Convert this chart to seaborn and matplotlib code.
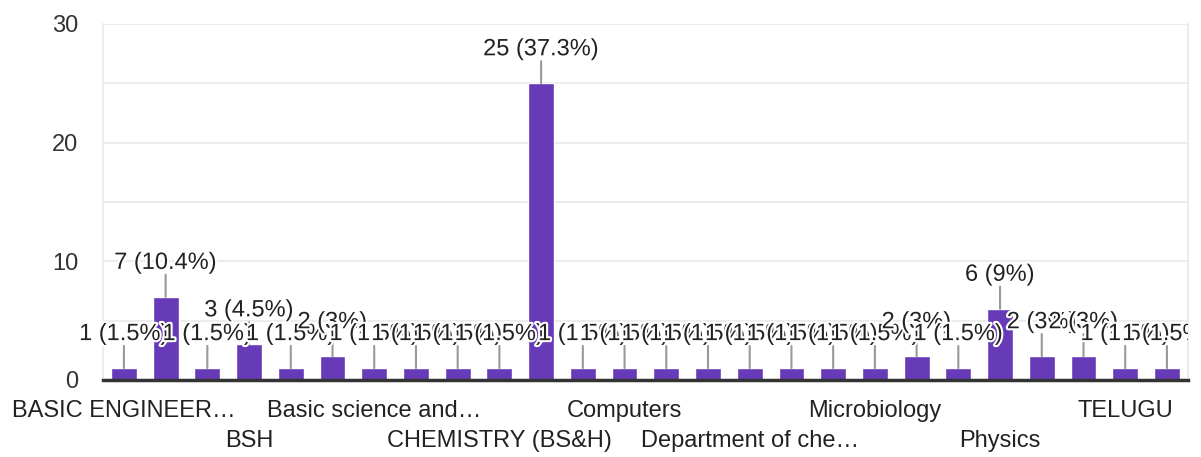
import matplotlib
matplotlib.use("Agg")
import matplotlib.pyplot as plt
import matplotlib.patheffects as pe
from matplotlib.transforms import Bbox, TransformedBbox
import pandas as pd
import seaborn as sns

# responses per department (26 bars, only every third name is printed on the axis)
counts = [1, 7, 1, 3, 1, 2, 1, 1, 1, 1, 25, 1, 1, 1, 1, 1, 1, 1, 1, 2, 1, 6, 2, 2, 1, 1]
tick_labels = ["BASIC ENGINEER…", "", "", "BSH", "", "", "Basic science and…", "", "",
               "CHEMISTRY (BS&H)", "", "", "Computers", "", "", "Department of che…", "", "",
               "Microbiology", "", "", "Physics", "", "", "TELUGU", ""]
second_row = [3, 9, 15, 21]  # labels pushed down to the second line
y_ticks = [0, 5, 10, 15, 20, 25, 30]

bar_color = "#673ab7"
text_color = "#222222"

sns.set_theme(style="white")
plt.rcParams["font.family"] = ["Liberation Sans", "DejaVu Sans"]

df = pd.DataFrame({"idx": list(range(len(counts))), "count": counts})
total = sum(counts)

fig = plt.figure(figsize=(12.01, 4.57), dpi=100)
ax = fig.add_axes([0.0858, 0.1685, 0.9032, 0.779])

sns.barplot(data=df, x="idx", y="count", color=bar_color, saturation=1,
            width=0.62, ax=ax, zorder=2)

ax.set_xlim(-0.5, len(counts) - 0.5)
ax.set_ylim(0, 30)
ax.set_yticks(y_ticks)
ax.set_yticklabels([str(t) if t % 10 == 0 else "" for t in y_ticks])
ax.grid(axis="y", color="#ebebeb", lw=1.3, zorder=0)
ax.set_axisbelow(True)

labels = []
for i, lab in enumerate(tick_labels):
    labels.append("\n" + lab if i in second_row else lab)
ax.set_xticks(range(len(counts)))
ax.set_xticklabels(labels, fontsize=17, color=text_color, linespacing=1.45)
ax.tick_params(axis="x", length=0, pad=14.5)
ax.tick_params(axis="y", length=0, pad=18, labelsize=17, labelcolor="#333333")
ax.set_xlabel("")
ax.set_ylabel("")

for side in ["left", "right"]:
    ax.spines[side].set_color("#ebebeb")
    ax.spines[side].set_linewidth(1.3)
ax.spines["top"].set_visible(False)
ax.spines["bottom"].set_color("#333333")
ax.spines["bottom"].set_linewidth(2.5)
ax.spines["bottom"].set_zorder(5)

# labels get cut at the right edge of the plot area only
clip_box = TransformedBbox(Bbox([[-0.1, 0], [1.0, 1.05]]), ax.transAxes)

# value labels with a leader line, like the forms summary chart
for i, c in enumerate(counts):
    pct = f"{100 * c / total:.1f}".rstrip("0").rstrip(".")
    ax.annotate("", xy=(i, c), xytext=(0, 16), textcoords="offset points",
                arrowprops=dict(arrowstyle="-", color="#999999", lw=1.5,
                                shrinkA=0, shrinkB=0), zorder=3)
    t = ax.annotate(f"{c} ({pct}%)", xy=(i, c), xytext=(0, 24.5), textcoords="offset points",
                    ha="center", va="center", fontsize=17, color=text_color, zorder=4,
                    path_effects=[pe.withStroke(linewidth=3, foreground="white")])
    t.set_clip_box(clip_box)
    t.set_clip_on(True)

fig.savefig("out.png", dpi=100)
